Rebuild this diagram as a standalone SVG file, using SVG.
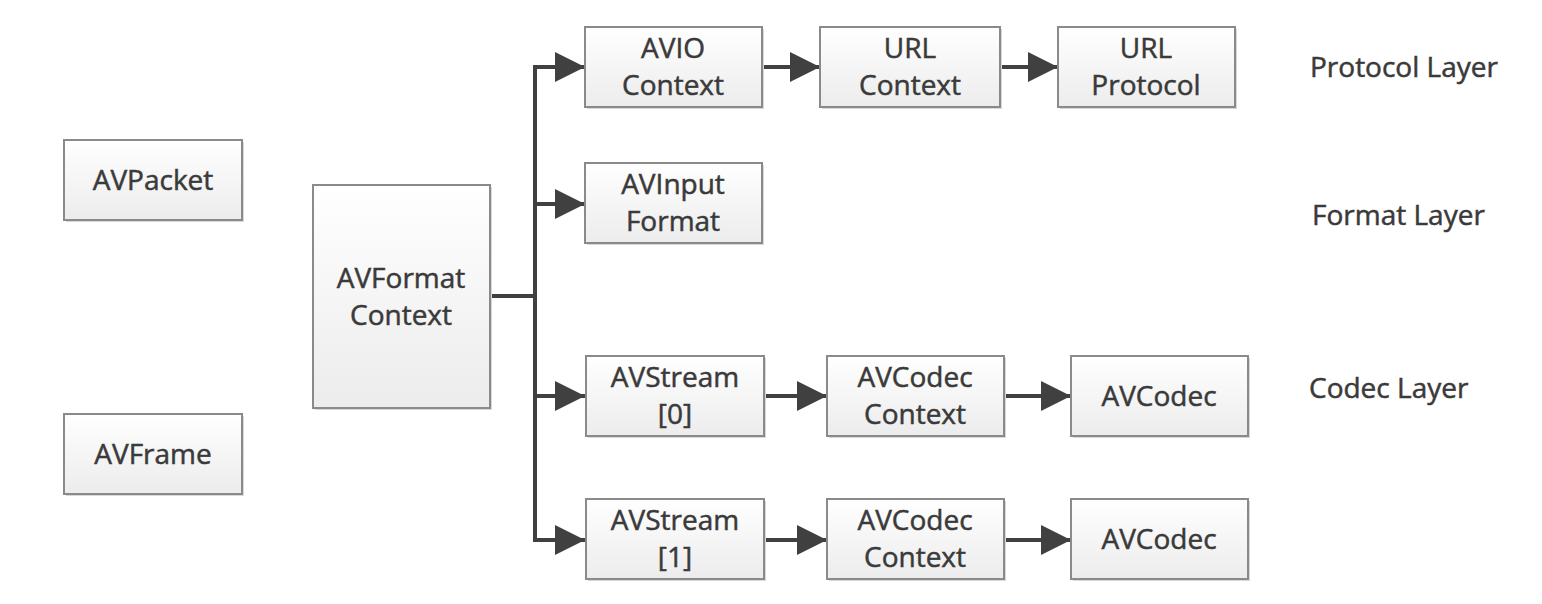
<svg xmlns="http://www.w3.org/2000/svg" width="1542" height="604" viewBox="0 0 1542 604">
<style>
.box{fill:url(#g);stroke:#8a8a8a;stroke-width:2}
.sh{fill:#d8d8d8}
.t{font-family:"Open Sans","Liberation Sans",sans-serif;font-size:28px;fill:#3a3a3a;stroke:#3a3a3a;stroke-width:0.5;text-anchor:middle}
.lt{font-family:"Open Sans","Liberation Sans",sans-serif;font-size:28px;fill:#3a3a3a;stroke:#3a3a3a;stroke-width:0.5}
.c{stroke:#404040;stroke-width:4;fill:none}
.a{stroke:#404040;stroke-width:4;fill:none;marker-end:url(#arr)}
</style>
<defs>
<linearGradient id="g" x1="0" y1="0" x2="0" y2="1">
<stop offset="0" stop-color="#ffffff"/>
<stop offset="1" stop-color="#ececec"/>
</linearGradient>
<marker id="arr" markerUnits="userSpaceOnUse" markerWidth="30" markerHeight="30" viewBox="0 0 28 28" refX="28" refY="14" orient="auto">
<path d="M0,0 L28,14 L0,28 Z" fill="#404040"/>
</marker>
</defs>
<rect width="1542" height="604" fill="#ffffff"/>
<g id="connectors">
<path class="c" d="M490,296 H535 M535,67 V541"/>
<path class="a" d="M533,67 H585"/>
<path class="a" d="M533,204 H585"/>
<path class="a" d="M533,396 H585"/>
<path class="a" d="M533,540 H585"/>
<path class="a" d="M762,67 H820"/>
<path class="a" d="M1000,67 H1058"/>
<path class="a" d="M764,396 H827"/>
<path class="a" d="M1004,396 H1071"/>
<path class="a" d="M764,540 H827"/>
<path class="a" d="M1004,540 H1071"/>
</g>
<g id="avpacket"><rect class="sh" x="66" y="142" width="178" height="80"/><rect class="box" x="64" y="140" width="178" height="80"/><text class="t" x="153" y="190">AVPacket</text></g>
<g id="avframe"><rect class="sh" x="66" y="416" width="178" height="80"/><rect class="box" x="64" y="414" width="178" height="80"/><text class="t" x="153" y="464">AVFrame</text></g>
<g id="avformatcontext"><rect class="sh" x="315" y="187" width="177" height="223"/><rect class="box" x="313" y="185" width="177" height="223"/><text class="t" x="401" y="288">AVFormat</text><text class="t" x="401" y="325">Context</text></g>
<g id="aviocontext"><rect class="sh" x="587" y="29" width="177" height="80"/><rect class="box" x="585" y="27" width="177" height="80"/><text class="t" x="673" y="58">AVIO</text><text class="t" x="673" y="95">Context</text></g>
<g id="urlcontext"><rect class="sh" x="822" y="29" width="180" height="80"/><rect class="box" x="820" y="27" width="180" height="80"/><text class="t" x="910" y="58">URL</text><text class="t" x="910" y="95">Context</text></g>
<g id="urlprotocol"><rect class="sh" x="1060" y="29" width="177" height="80"/><rect class="box" x="1058" y="27" width="177" height="80"/><text class="t" x="1146" y="58">URL</text><text class="t" x="1146" y="95">Protocol</text></g>
<g id="avinputformat"><rect class="sh" x="587" y="165" width="177" height="80"/><rect class="box" x="585" y="163" width="177" height="80"/><text class="t" x="673" y="194">AVInput</text><text class="t" x="673" y="231">Format</text></g>
<g id="avstream0"><rect class="sh" x="588" y="358" width="178" height="80"/><rect class="box" x="586" y="356" width="178" height="80"/><text class="t" x="675" y="387">AVStream</text><text class="t" x="675" y="424">[0]</text></g>
<g id="avcodeccontext0"><rect class="sh" x="829" y="358" width="177" height="80"/><rect class="box" x="827" y="356" width="177" height="80"/><text class="t" x="915" y="387">AVCodec</text><text class="t" x="915" y="424">Context</text></g>
<g id="avcodec0"><rect class="sh" x="1073" y="358" width="177" height="80"/><rect class="box" x="1071" y="356" width="177" height="80"/><text class="t" x="1159" y="406">AVCodec</text></g>
<g id="avstream1"><rect class="sh" x="588" y="501" width="178" height="80"/><rect class="box" x="586" y="499" width="178" height="80"/><text class="t" x="675" y="530">AVStream</text><text class="t" x="675" y="567">[1]</text></g>
<g id="avcodeccontext1"><rect class="sh" x="829" y="501" width="177" height="80"/><rect class="box" x="827" y="499" width="177" height="80"/><text class="t" x="915" y="530">AVCodec</text><text class="t" x="915" y="567">Context</text></g>
<g id="avcodec1"><rect class="sh" x="1073" y="501" width="177" height="80"/><rect class="box" x="1071" y="499" width="177" height="80"/><text class="t" x="1159" y="549">AVCodec</text></g>
<g id="layers">
<text class="lt" x="1310" y="77">Protocol Layer</text>
<text class="lt" x="1312" y="225">Format Layer</text>
<text class="lt" x="1309" y="398">Codec Layer</text>
</g>
</svg>
